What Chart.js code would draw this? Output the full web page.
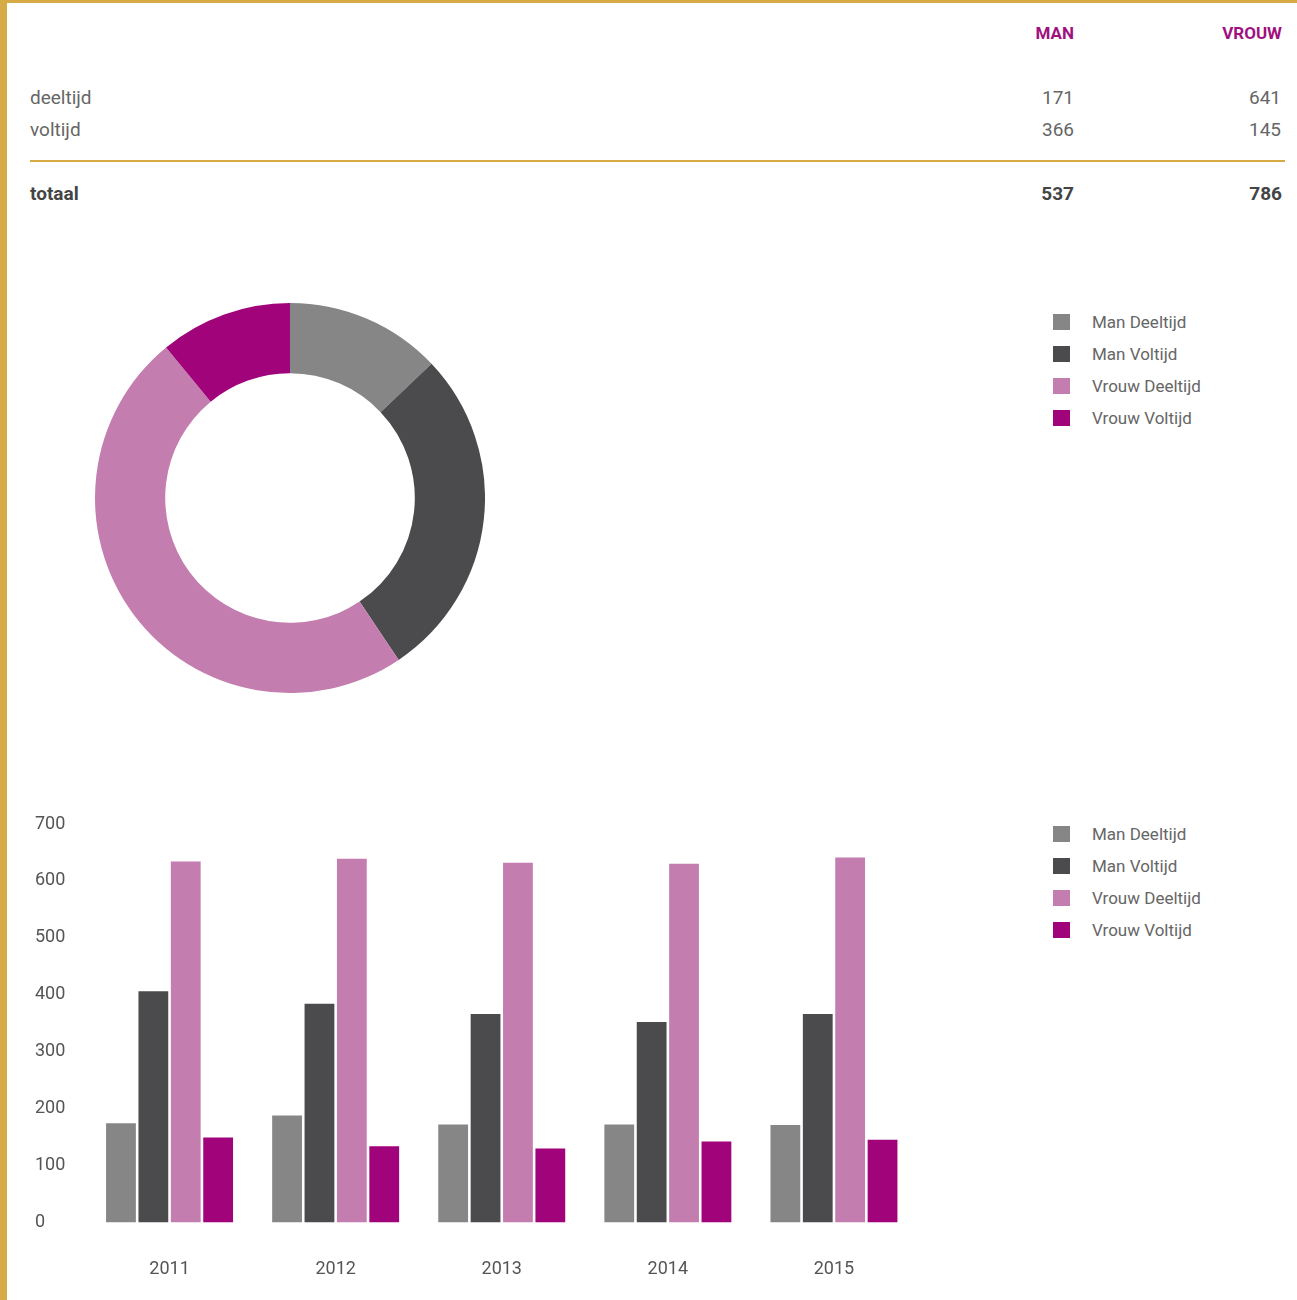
<!DOCTYPE html>
<html>
<head>
<meta charset="utf-8">
<script src="https://cdn.jsdelivr.net/npm/chart.js@4.4.0/dist/chart.umd.min.js"></script>
<style>
  html, body { margin: 0; padding: 0; background: #fff; }
  body { width: 1297px; height: 1300px; position: relative; overflow: hidden; font-family: Roboto, "Noto Sans", sans-serif; color: #666; }
  .gold-top { position: absolute; left: 0; top: 0; width: 1297px; height: 3px; background: #d6aa45; }
  .gold-left { position: absolute; left: 0; top: 0; width: 7px; height: 1300px; background: #d6aa45; }
  .t { position: absolute; font-size: 19px; line-height: 24px; white-space: nowrap; }
  .num { text-align: right; width: 100px; }
  .head { font-weight: bold; color: #a0107f; font-size: 17px; }
  .tot { font-weight: bold; color: #444; }
  .rule { position: absolute; left: 30px; top: 160px; width: 1255px; height: 2px; background: #d6aa45; }
  .legend { position: absolute; left: 1053px; width: 240px; }
  .legend div { position: relative; height: 32px; font-size: 17px; line-height: 16px; color: #666; white-space: nowrap; }
  .legend span.box { position: absolute; left: 0; top: 0; width: 17px; height: 16px; }
  .legend span.lbl { position: absolute; left: 39px; top: 0; }
  canvas { position: absolute; }
</style>
</head>
<body>
<div class="gold-top"></div>
<div class="gold-left"></div>
<div id="table"></div>
<div class="rule"></div>

<canvas id="donut" width="390" height="390" style="left:95px;top:303px"></canvas>
<div class="legend" id="donutLegend" style="top:314px"></div>

<canvas id="bars" width="882" height="505" style="left:35px;top:811px"></canvas>
<div class="legend" id="barLegend" style="top:826px"></div>

<script>
// table data (current year)
var rowLabels = ["deeltijd", "voltijd"];
var manValues = [171, 366];
var vrouwValues = [641, 145];

// series
var seriesNames = ["Man Deeltijd", "Man Voltijd", "Vrouw Deeltijd", "Vrouw Voltijd"];
var seriesColors = ["#868686", "#4b4b4d", "#c47daf", "#a0037a"];
var donutValues = [171, 366, 641, 145];

var years = ["2011", "2012", "2013", "2014", "2015"];
var manDeeltijd = [174, 188, 172, 172, 171];
var manVoltijd = [406, 384, 366, 352, 366];
var vrouwDeeltijd = [634, 639, 632, 630, 641];
var vrouwVoltijd = [149, 134, 130, 142, 145];

var yTicks = [0, 100, 200, 300, 400, 500, 600, 700];

// ---- table
var table = document.getElementById("table");
function addText(txt, x, y, cls, right) {
  var d = document.createElement("div");
  d.className = "t " + (cls || "");
  d.textContent = txt;
  d.style.top = (y - 12) + "px";
  if (right) { d.classList.add("num"); d.style.left = (x - 100) + "px"; }
  else d.style.left = x + "px";
  table.appendChild(d);
}
addText("MAN", 1074, 33, "head", true);
addText("VROUW", 1282, 33, "head", true);
for (var i = 0; i < rowLabels.length; i++) {
  var y = 98 + i * 32;
  addText(rowLabels[i], 30, y);
  addText(String(manValues[i]), 1074, y, "", true);
  addText(String(vrouwValues[i]), 1281, y, "", true);
}
var manTotal = manValues.reduce(function (a, b) { return a + b; }, 0);
var vrouwTotal = vrouwValues.reduce(function (a, b) { return a + b; }, 0);
addText("totaal", 30, 194, "tot");
addText(String(manTotal), 1074, 194, "tot", true);
addText(String(vrouwTotal), 1282, 194, "tot", true);

// ---- legends
function buildLegend(id) {
  var el = document.getElementById(id);
  seriesNames.forEach(function (name, k) {
    var row = document.createElement("div");
    row.innerHTML = '<span class="box" style="background:' + seriesColors[k] + '"></span><span class="lbl">' + name + '</span>';
    el.appendChild(row);
  });
}
buildLegend("donutLegend");
buildLegend("barLegend");

Chart.defaults.font.family = "Roboto, 'Noto Sans', sans-serif";
Chart.defaults.color = "#555";

// ---- doughnut
new Chart(document.getElementById("donut"), {
  type: "doughnut",
  data: {
    labels: seriesNames,
    datasets: [{
      data: donutValues,
      backgroundColor: seriesColors,
      borderWidth: 0
    }]
  },
  options: {
    responsive: false,
    animation: false,
    cutout: "64%",
    plugins: { legend: { display: false }, tooltip: { enabled: false } }
  }
});

// ---- bars
var barSeries = [manDeeltijd, manVoltijd, vrouwDeeltijd, vrouwVoltijd];
new Chart(document.getElementById("bars"), {
  type: "bar",
  data: {
    labels: years,
    datasets: barSeries.map(function (vals, k) {
      return {
        label: seriesNames[k],
        data: vals,
        backgroundColor: seriesColors[k],
        borderWidth: 0,
        barPercentage: 0.92,
        categoryPercentage: 0.78
      };
    })
  },
  options: {
    responsive: false,
    animation: false,
    layout: { padding: { top: 13, right: 0 } },
    plugins: { legend: { display: false }, tooltip: { enabled: false } },
    scales: {
      x: {
        grid: { display: false, drawTicks: false },
        border: { display: false },
        ticks: { font: { size: 18 }, color: "#555", padding: 36 }
      },
      y: {
        min: 0,
        max: 700,
        grid: { display: false, drawTicks: false },
        border: { display: false },
        afterBuildTicks: function (scale) {
          scale.ticks = yTicks.map(function (v) { return { value: v }; });
        },
        afterFit: function (scale) { scale.width = 51.5; },
        ticks: { font: { size: 18 }, color: "#555", crossAlign: "far", padding: 0 }
      }
    }
  }
});
</script>
</body>
</html>
